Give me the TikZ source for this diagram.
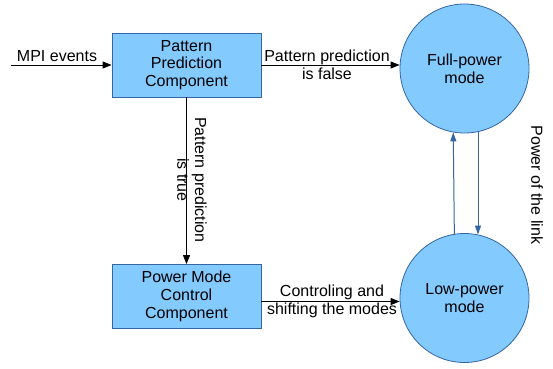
\documentclass[tikz,border=0pt]{standalone}
\usepackage{fontspec}
\setmainfont{Liberation Sans}
\usetikzlibrary{arrows.meta}
\definecolor{boxfill}{HTML}{83CAFF}
\definecolor{boxline}{HTML}{3465A4}
\begin{document}
\begin{tikzpicture}[x=1pt,y=-1pt, font=\fontsize{16}{17.8}\selectfont,
 comp/.style={draw=boxline, fill=boxfill, minimum width=149pt, minimum height=64pt, inner sep=0pt, align=center, line width=0.8pt},
 modecirc/.style={circle, draw=boxline, fill=boxfill, minimum size=129pt, inner sep=0pt, align=center, line width=0.8pt},
 flow/.style={-{Triangle[length=9pt,width=7pt]}, line width=0.8pt},
 link/.style={draw=boxline, -{Triangle[length=9pt,width=6pt]}, line width=1pt},
 lbl/.style={align=center, inner sep=0pt}
]
\useasboundingbox (0,0) rectangle (553,368);
\node[comp] (ppc) at (186.5,65) {Pattern\\Prediction\\Component};
\node[comp] (pmc) at (186.5,296.5) {Power Mode\\Control\\Component};
\node[modecirc] (full) at (464.5,68.5) {Full-power\\mode};
\node[modecirc] (low) at (464.5,298) {Low-power\\mode};
\coordinate (mpi) at (11,65);
\draw[flow] (mpi) -- (ppc.west);
\node[lbl] (mpilbl) at (57,56) {MPI events};
\draw[flow] (ppc.east) -- (ppc.east -| full.west);
\node[lbl] (falselbl) at (327,65) {Pattern prediction\\is false};
\draw[flow] (ppc.south) -- (pmc.north);
\node[lbl, rotate=-90] (truelbl) at (192,180) {Pattern prediction\\is true};
\draw[flow] ([yshift=-5pt]pmc.east) -- ([yshift=-5pt]pmc.east -| low.west);
\node[lbl] (ctrllbl) at (332,301) {Controling and\\shifting the modes};
\draw[link] (low.99.4) -- (full.260.6);
\draw[link] (full.282) -- (low.78);
\node[lbl, rotate=-90] (linklbl) at (537,185) {Power of the link};
\end{tikzpicture}
\end{document}
